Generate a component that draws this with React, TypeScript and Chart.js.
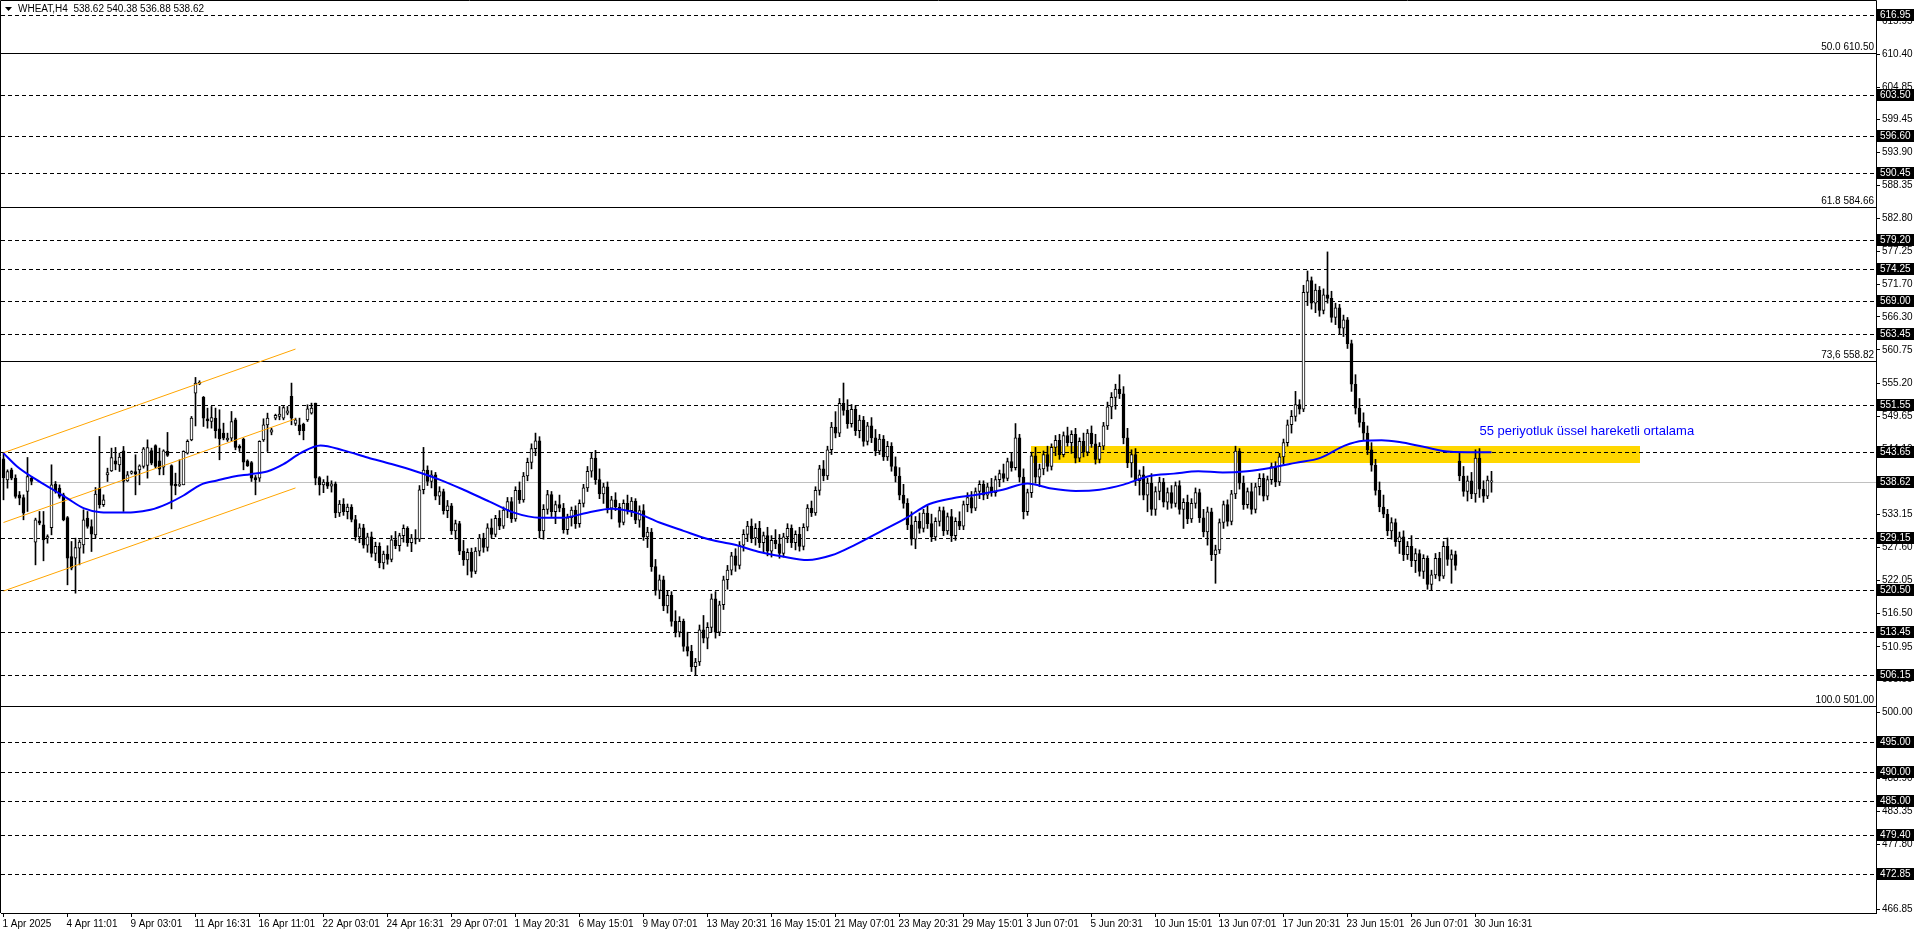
import React, { useEffect, useRef } from 'react';
import { Chart, registerables } from 'chart.js';
Chart.register(...registerables);

// ---------------- data (H4 bars, index 0 = first bar on screen) ----------------
const barOpen = [542.5, 538.96, 540.64, 539.24, 536.44, 535.99, 537.00, 539.24, 528.50, 532.08,
  531.41, 529.17, 530.95, 538.23, 537.56, 536.44, 532.64, 526.09, 525.81, 527.49,
  528.05, 532.53, 531.13, 529.73, 537.56, 534.77, 539.80, 540.47, 542.15, 541.48,
  543.83, 538.79, 540.08, 540.36, 540.64, 541.20, 541.37, 543.88, 544.72, 542.15,
  541.09, 543.72, 541.37, 538.23, 538.01, 538.12, 543.44, 545.67, 553.51, 555.07,
  552.78, 549.20, 548.75, 549.31, 547.52, 546.79, 545.67, 545.96, 549.03, 544.56,
  545.79, 542.15, 541.87, 539.35, 539.24, 545.67, 548.19, 546.96, 549.31, 549.59,
  549.31, 550.15, 552.95, 548.42, 548.19, 548.30, 549.03, 550.15, 551.83, 539.35,
  538.1, 538.6, 537.9, 538.3, 533.4, 534.9, 533.6, 534.4, 532.3, 529.4,
  530.9, 528.0, 529.4, 526.6, 527.8, 525.0, 526.5, 525.6, 528.9, 527.9,
  529.6, 530.8, 528.4, 529.2, 529.0, 537.3, 540.6, 538.7, 539.8, 536.2,
  537.0, 533.8, 534.6, 530.4, 531.6, 527.0, 525.5, 526.8, 523.6, 527.0,
  529.2, 527.6, 530.9, 529.8, 532.5, 531.2, 533.9, 535.3, 532.4, 537.2,
  535.6, 539.6, 541.9, 544.2, 545.5, 530.4, 534.0, 536.5, 533.6, 534.8,
  534.2, 530.6, 532.6, 533.9, 531.6, 535.0, 537.6, 540.4, 542.6, 539.0,
  536.6, 537.8, 534.2, 535.6, 534.4, 531.8, 535.0, 533.8, 535.4, 532.2,
  533.8, 529.4, 530.2, 524.4, 520.4, 522.2, 517.8, 519.6, 515.2, 513.4,
  515.2, 511.0, 510.2, 507.6, 508.4, 513.8, 512.4, 514.2, 519.0, 513.4,
  518.0, 522.2, 523.8, 526.2, 524.6, 528.0, 529.8, 531.2, 529.2, 530.8,
  528.4, 529.6, 527.0, 528.8, 528.2, 526.6, 529.4, 530.8, 528.4, 529.8,
  527.8, 531.0, 534.2, 533.4, 537.2, 540.8, 539.6, 544.0, 547.8, 546.8,
  551.8, 550.6, 548.4, 550.8, 547.2, 549.0, 545.4, 548.0, 546.0, 543.8,
  545.8, 542.8, 544.6, 541.2, 539.6, 536.4, 535.0, 531.4, 529.0, 532.0,
  530.8, 533.4, 531.6, 529.4, 532.0, 533.8, 530.4, 532.8, 529.6, 532.0,
  531.2, 534.8, 536.0, 534.2, 537.0, 538.2, 536.4, 537.8, 536.8, 539.0,
  540.0, 539.2, 542.0, 541.0, 546.0, 539.4, 533.6, 536.8, 543.0, 539.4,
  540.8, 543.2, 541.2, 544.4, 545.6, 543.2, 546.4, 545.2, 546.6, 542.6,
  545.4, 543.6, 546.8, 545.0, 542.4, 544.6, 548.0, 551.2, 552.8, 554.2,
  553.4, 546.0, 541.8, 543.2, 538.8, 539.8, 536.4, 538.4, 534.0, 537.0,
  538.6, 535.2, 536.8, 535.0, 538.0, 534.0, 535.2, 532.4, 535.0, 536.8,
  532.6, 530.2, 533.6, 526.4, 527.2, 531.8, 534.8, 532.0, 536.6, 543.8,
  538.4, 534.8, 537.0, 534.0, 537.8, 539.2, 536.2, 539.0, 541.2, 538.6,
  542.8, 545.2, 548.2, 549.6, 551.6, 550.8, 570.4, 572.4, 568.6, 570.8,
  567.4, 570.0, 569.4, 566.2, 567.8, 564.4, 565.8, 561.8, 555.0, 551.0,
  548.6, 546.8, 544.0, 541.4, 537.2, 534.4, 533.2, 530.4, 531.8, 528.6,
  529.4, 526.4, 527.8, 525.4, 526.6, 523.6, 525.8, 521.4, 523.0, 525.8,
  522.8, 527.8, 525.6, 526.4, 542.1, 539.6, 537.0, 538.8, 536.6, 542.6,
  537.4, 536.2, 538.62];
const barHigh = [543.5, 540.64, 540.92, 539.80, 537.00, 536.44, 542.71, 539.52, 532.53, 533.65,
  533.65, 529.73, 541.48, 538.68, 538.12, 536.72, 532.81, 528.61, 529.17, 528.89,
  533.93, 533.65, 532.25, 537.67, 546.24, 536.44, 540.92, 544.28, 544.39, 543.44,
  544.56, 540.36, 540.47, 543.16, 541.48, 544.39, 545.67, 544.28, 544.84, 544.28,
  544.00, 546.91, 541.48, 540.08, 542.32, 543.83, 545.67, 549.59, 556.14, 555.58,
  552.95, 550.99, 551.27, 550.99, 550.71, 548.47, 546.79, 550.43, 549.31, 544.84,
  545.96, 542.32, 542.04, 539.69, 545.51, 549.20, 550.15, 547.63, 549.98, 551.27,
  551.27, 551.27, 555.19, 549.31, 549.31, 548.47, 551.55, 551.83, 551.83, 539.50,
  539.0, 539.6, 538.8, 538.6, 535.5, 535.8, 534.9, 534.8, 533.0, 531.6,
  531.5, 530.0, 530.2, 528.5, 528.4, 527.0, 527.9, 529.6, 530.3, 530.0,
  531.4, 531.1, 529.8, 530.6, 538.0, 544.4, 541.3, 540.5, 540.2, 537.8,
  537.4, 535.5, 535.0, 532.2, 532.0, 528.8, 527.4, 527.5, 527.6, 529.8,
  530.0, 531.6, 532.4, 533.0, 533.8, 534.4, 536.0, 536.0, 537.8, 538.6,
  540.2, 542.6, 545.0, 546.8, 546.2, 534.8, 537.2, 537.0, 535.4, 536.4,
  535.0, 533.2, 534.4, 534.6, 535.6, 538.2, 541.2, 543.4, 543.9, 540.8,
  538.4, 538.6, 536.2, 536.8, 535.0, 535.6, 536.4, 536.0, 535.8, 534.6,
  534.8, 531.0, 530.8, 525.6, 523.0, 522.8, 520.4, 520.2, 517.0, 516.0,
  515.6, 513.4, 511.2, 509.0, 514.6, 516.2, 515.0, 519.8, 520.2, 518.6,
  522.8, 524.6, 526.8, 527.4, 528.6, 530.6, 532.0, 532.4, 531.6, 532.0,
  530.2, 531.0, 529.6, 530.6, 529.8, 530.0, 531.6, 531.4, 530.4, 531.0,
  531.6, 534.8, 535.4, 537.8, 541.4, 542.2, 544.6, 548.6, 550.4, 552.6,
  555.2, 552.4, 551.6, 551.4, 549.8, 549.6, 548.6, 549.4, 547.4, 546.6,
  546.4, 545.4, 545.2, 542.8, 541.0, 538.2, 535.8, 533.6, 532.8, 533.4,
  534.0, 534.6, 533.2, 532.6, 534.4, 534.4, 533.4, 534.0, 532.6, 533.6,
  535.4, 536.8, 537.0, 537.6, 538.8, 538.8, 538.4, 539.2, 539.6, 540.6,
  541.6, 542.6, 543.4, 548.4, 546.6, 540.8, 537.4, 543.6, 544.4, 541.6,
  543.8, 544.6, 545.0, 546.4, 546.6, 547.0, 547.8, 547.2, 547.6, 546.0,
  546.8, 547.4, 548.0, 546.6, 545.2, 548.6, 552.0, 553.6, 555.0, 556.6,
  554.6, 547.6, 544.0, 544.2, 540.6, 541.2, 539.2, 540.0, 537.8, 539.4,
  539.2, 537.6, 538.0, 538.6, 538.8, 535.8, 536.4, 535.8, 537.6, 537.4,
  534.0, 534.4, 534.2, 528.0, 532.4, 535.4, 535.6, 537.2, 544.6, 544.2,
  539.6, 537.6, 538.4, 538.4, 540.0, 540.0, 539.6, 541.8, 542.0, 543.4,
  545.8, 549.0, 550.6, 553.8, 552.4, 571.6, 574.0, 573.0, 571.8, 571.4,
  571.0, 577.2, 570.6, 568.6, 568.4, 566.6, 566.2, 562.4, 556.6, 552.6,
  550.2, 548.0, 545.2, 542.4, 538.6, 536.4, 534.0, 532.6, 532.4, 530.2,
  530.4, 528.6, 529.6, 527.4, 527.2, 526.4, 526.2, 523.8, 526.6, 526.8,
  528.6, 529.2, 527.2, 527.0, 543.4, 541.2, 539.6, 540.2, 544.0, 544.2,
  538.8, 539.6, 540.38];
const barLow = [535.6, 537.56, 538.96, 535.88, 534.77, 532.25, 533.65, 538.12, 524.69, 531.41,
  525.37, 528.33, 529.73, 536.72, 535.88, 532.08, 521.34, 523.85, 519.94, 524.69,
  526.65, 530.84, 526.93, 529.17, 534.21, 534.49, 538.68, 540.36, 540.64, 540.36,
  533.65, 538.68, 539.91, 536.44, 538.12, 540.92, 539.24, 541.48, 540.92, 539.80,
  539.80, 542.88, 534.09, 536.44, 537.84, 538.12, 543.27, 545.51, 548.00, 554.91,
  547.91, 547.63, 547.63, 545.96, 542.32, 545.67, 545.40, 545.40, 544.00, 543.72,
  540.64, 541.20, 538.68, 536.44, 538.68, 545.40, 543.72, 546.51, 549.03, 549.03,
  549.03, 549.87, 548.19, 548.08, 546.51, 545.67, 548.75, 549.98, 538.12, 536.40,
  536.8, 537.5, 536.9, 532.6, 532.8, 533.0, 532.4, 531.9, 528.8, 528.4,
  527.5, 526.8, 526.0, 525.4, 524.2, 524.0, 524.8, 525.2, 527.4, 527.0,
  528.5, 527.8, 526.9, 528.2, 528.6, 536.6, 538.0, 537.6, 535.6, 534.8,
  533.2, 532.6, 529.8, 529.0, 526.4, 524.6, 523.0, 522.6, 523.2, 526.2,
  526.8, 527.0, 529.2, 529.4, 530.6, 530.8, 532.6, 531.8, 532.0, 535.0,
  535.2, 538.8, 540.8, 543.0, 529.2, 529.0, 533.2, 532.8, 531.6, 533.6,
  530.0, 529.8, 531.2, 530.8, 531.0, 534.4, 537.0, 539.4, 538.2, 535.8,
  535.0, 533.4, 532.4, 533.8, 531.0, 531.4, 533.2, 532.8, 531.6, 531.0,
  528.8, 527.6, 523.6, 519.6, 519.0, 517.0, 516.6, 514.4, 512.6, 512.6,
  510.2, 509.4, 506.8, 506.2, 507.8, 511.6, 510.6, 513.4, 512.4, 512.8,
  517.2, 520.6, 523.0, 523.6, 524.0, 527.0, 528.6, 528.4, 528.0, 527.6,
  526.8, 526.2, 526.0, 527.4, 525.8, 526.0, 528.4, 527.6, 527.2, 527.0,
  527.2, 530.4, 532.8, 533.0, 536.4, 538.8, 539.0, 543.2, 546.0, 546.2,
  549.8, 547.6, 547.8, 546.4, 546.0, 544.6, 544.8, 545.2, 543.0, 543.2,
  542.2, 542.2, 540.4, 538.6, 535.6, 534.2, 530.6, 528.0, 527.4, 530.0,
  530.2, 530.8, 528.6, 528.8, 531.2, 529.6, 529.8, 528.6, 528.8, 530.6,
  530.6, 533.6, 533.4, 533.8, 535.8, 535.6, 535.8, 536.2, 536.2, 537.8,
  538.6, 538.8, 540.4, 540.6, 538.6, 532.4, 533.0, 536.0, 538.4, 537.8,
  539.8, 540.4, 540.6, 543.0, 542.4, 542.8, 544.6, 543.4, 541.8, 542.0,
  542.8, 543.0, 544.4, 541.6, 541.8, 544.0, 547.4, 549.2, 550.8, 552.6,
  545.0, 541.0, 539.4, 538.0, 536.4, 535.6, 533.6, 533.0, 533.0, 535.6,
  534.4, 534.0, 534.2, 534.4, 533.2, 530.8, 531.6, 531.8, 534.2, 531.8,
  529.4, 528.0, 525.4, 521.6, 526.6, 530.8, 531.2, 531.4, 535.8, 537.4,
  534.0, 534.2, 533.2, 533.4, 536.4, 535.4, 535.6, 538.2, 537.8, 538.0,
  541.6, 544.6, 546.8, 548.8, 550.0, 550.4, 568.2, 567.6, 567.0, 566.4,
  566.8, 568.6, 565.4, 565.0, 563.4, 563.0, 561.0, 553.8, 550.0, 547.8,
  545.6, 543.2, 540.4, 536.4, 533.6, 532.6, 529.6, 529.0, 527.8, 526.6,
  525.4, 525.6, 524.4, 523.4, 522.8, 522.4, 520.6, 520.4, 522.4, 522.0,
  522.4, 524.6, 521.6, 523.8, 538.8, 536.2, 535.4, 535.8, 535.2, 536.0,
  535.2, 535.8, 536.88];
const barClose = [539.3, 540.36, 539.24, 536.16, 535.88, 533.37, 539.52, 538.68, 532.25, 531.69,
  528.89, 529.45, 538.12, 537.00, 536.16, 532.25, 525.81, 524.13, 527.60, 528.50,
  532.25, 531.13, 529.84, 536.55, 534.77, 535.60, 540.19, 542.71, 541.59, 542.77,
  538.68, 539.80, 540.36, 539.91, 541.31, 544.16, 544.39, 541.76, 541.20, 540.75,
  543.83, 543.05, 538.01, 537.95, 538.23, 543.72, 545.40, 549.31, 555.19, 555.30,
  549.31, 548.86, 549.42, 547.19, 545.84, 545.96, 545.96, 548.75, 544.39, 544.28,
  541.93, 541.31, 539.24, 538.96, 545.40, 548.19, 549.31, 547.35, 549.76, 549.98,
  551.10, 550.54, 549.31, 549.03, 547.19, 547.19, 550.88, 550.99, 539.24, 538.12,
  538.6, 537.9, 538.3, 533.4, 534.9, 533.6, 534.4, 532.3, 529.4, 530.9,
  528.0, 529.4, 526.6, 527.8, 525.0, 526.5, 525.6, 528.9, 527.9, 529.6,
  530.8, 528.4, 529.2, 529.0, 537.3, 540.6, 538.7, 539.8, 536.2, 537.0,
  533.8, 534.6, 530.4, 531.6, 527.0, 525.5, 526.8, 523.6, 527.0, 529.2,
  527.6, 530.9, 529.8, 532.5, 531.2, 533.9, 535.3, 532.4, 537.2, 535.6,
  539.6, 541.9, 544.2, 545.5, 530.4, 534.0, 536.5, 533.6, 534.8, 534.2,
  530.6, 532.6, 533.9, 531.6, 535.0, 537.6, 540.4, 542.6, 539.0, 536.6,
  537.8, 534.2, 535.6, 534.4, 531.8, 535.0, 533.8, 535.4, 532.2, 533.8,
  529.4, 530.2, 524.4, 520.4, 522.2, 517.8, 519.6, 515.2, 513.4, 515.2,
  511.0, 510.2, 507.6, 508.4, 513.8, 512.4, 514.2, 519.0, 513.4, 518.0,
  522.2, 523.8, 526.2, 524.6, 528.0, 529.8, 531.2, 529.2, 530.8, 528.4,
  529.6, 527.0, 528.8, 528.2, 526.6, 529.4, 530.8, 528.4, 529.8, 527.8,
  531.0, 534.2, 533.4, 537.2, 540.8, 539.6, 544.0, 547.8, 546.8, 551.8,
  550.6, 548.4, 550.8, 547.2, 549.0, 545.4, 548.0, 546.0, 543.8, 545.8,
  542.8, 544.6, 541.2, 539.6, 536.4, 535.0, 531.4, 529.0, 532.0, 530.8,
  533.4, 531.6, 529.4, 532.0, 533.8, 530.4, 532.8, 529.6, 532.0, 531.2,
  534.8, 536.0, 534.2, 537.0, 538.2, 536.4, 537.8, 536.8, 539.0, 540.0,
  539.2, 542.0, 541.0, 546.0, 539.4, 533.6, 536.8, 543.0, 539.4, 540.8,
  543.2, 541.2, 544.4, 545.6, 543.2, 546.4, 545.2, 546.6, 542.6, 545.4,
  543.6, 546.8, 545.0, 542.4, 544.6, 548.0, 551.2, 552.8, 554.2, 553.4,
  546.0, 541.8, 543.2, 538.8, 539.8, 536.4, 538.4, 534.0, 537.0, 538.6,
  535.2, 536.8, 535.0, 538.0, 534.0, 535.2, 532.4, 535.0, 536.8, 532.6,
  530.2, 533.6, 526.4, 527.2, 531.8, 534.8, 532.0, 536.6, 543.8, 538.4,
  534.8, 537.0, 534.0, 537.8, 539.2, 536.2, 539.0, 541.2, 538.6, 542.8,
  545.2, 548.2, 549.6, 551.6, 550.8, 570.4, 572.4, 568.6, 570.8, 567.4,
  570.0, 569.4, 566.2, 567.8, 564.4, 565.8, 561.8, 555.0, 551.0, 548.6,
  546.8, 544.0, 541.4, 537.2, 534.4, 533.2, 530.4, 531.8, 528.6, 529.4,
  526.4, 527.8, 525.4, 526.6, 523.6, 525.8, 521.4, 523.0, 525.8, 522.8,
  527.8, 525.6, 526.4, 524.6, 539.6, 537.0, 538.8, 536.6, 542.6, 537.4,
  536.2, 538.9, 538.62];

// 55-period EMA (bar index, price)
const emaIdx = [0, 3.4, 7.6, 11.75, 15.9, 20, 24.25, 28.4, 32.6, 36.75, 40.9, 45, 49.25, 53.4, 57.6,
  61.75, 65.9, 70, 74.25, 79.25, 85, 91, 97, 103, 109, 115, 121.5, 127.6, 134, 139.8, 146, 152, 158,
  164, 170, 176.5, 182.6, 188.7, 194.8, 201, 207, 213, 219, 225.3, 231.5, 237.6, 243.7, 249.8, 256,
  262, 268, 274, 280, 286.5, 292.6, 298.7, 304.8, 310.9, 317, 323, 329.2, 335.3, 340, 344.5, 349,
  355, 361.75, 366, 372];
const emaVal = [543.44, 541.20, 539.24, 537.56, 535.88, 534.21, 533.53, 533.48, 533.53, 533.93,
  534.93, 536.33, 538.12, 538.85, 539.52, 539.91, 540.36, 541.59, 543.44, 544.72, 543.9, 542.7,
  541.6, 540.4, 539.0, 537.3, 535.3, 533.45, 532.6, 532.6, 533.45, 534.1, 533.45, 531.8, 530.4,
  528.95, 528.1, 526.9, 526.1, 525.5, 526.3, 528.1, 530.2, 532.4, 534.9, 535.9, 536.5, 537.3,
  538.35, 537.5, 537.1, 537.3, 538.15, 539.6, 540.0, 540.4, 540.2, 540.4, 541.0, 541.8, 542.65,
  544.7, 545.5, 545.6, 545.3, 544.5, 543.65, 543.6, 543.6];

const xTickIdx = [0, 16, 32, 48, 64, 80, 96, 112, 128, 144, 160, 176, 192, 208, 224, 240, 256, 272,
  288, 304, 320, 336, 352, 368];
const xTickLabels = ['1 Apr 2025', '4 Apr 11:01', '9 Apr 03:01', '11 Apr 16:31', '16 Apr 11:01',
  '22 Apr 03:01', '24 Apr 16:31', '29 Apr 07:01', '1 May 20:31', '6 May 15:01', '9 May 07:01',
  '13 May 20:31', '16 May 15:01', '21 May 07:01', '23 May 20:31', '29 May 15:01', '3 Jun 07:01',
  '5 Jun 20:31', '10 Jun 15:01', '13 Jun 07:01', '17 Jun 20:31', '23 Jun 15:01', '26 Jun 07:01',
  '30 Jun 16:31'];
const yTickValues = [615.95, 610.40, 604.85, 599.45, 593.90, 588.35, 582.80, 577.25, 571.70, 566.30,
  560.75, 555.20, 549.65, 544.10, 538.70, 533.15, 527.60, 522.05, 516.50, 510.95, 505.55, 500.00,
  494.45, 488.90, 483.35, 477.80, 472.30, 466.85];
const levelPrices = [616.95, 603.50, 596.60, 590.45, 579.20, 574.25, 569.00, 563.45, 551.55, 543.65,
  529.15, 520.50, 513.45, 506.15, 495.00, 490.00, 485.00, 479.40, 472.85];
const fibPrices = [610.50, 584.66, 558.82, 501.00];
const fibLabels = ['50.0 610.50', '61.8 584.66', '73,6 558.82', '100.0 501.00'];
const lastPrice = 538.62;
const headerText = 'WHEAT,H4  538.62 540.38 536.88 538.62';
const channelX = [0, 73];
const channelUpper = [543.5, 560.9];
const channelMiddle = [531.8, 549.2];
const channelLower = [520.3, 537.6];
const zoneX = [256.75, 409];
const zonePrice = [541.9, 544.7];
const emaNote = '55 periyotluk üssel hareketli ortalama';
const emaNoteAt = [369, 547.1];

// ---------------- layout constants ----------------
const W = 1916;
const H = 936;
const AXIS_W = 40;
const XAXIS_H = 23;
const BAR0_X = 3.5;
const PX_PER_BAR = 4;
const PRICE_REF = 616.95;
const PRICE_REF_Y = 15;
const PX_PER_PRICE = 5.96;
const FONT = 'Liberation Sans, Arial, sans-serif';

const overlay = {
  id: 'mt4overlay',
  beforeDatasetsDraw(chart: any) {
    const { ctx, chartArea: a, scales } = chart;
    const x = scales.x, y = scales.y;
    ctx.save();
    const zx1 = x.getPixelForValue(zoneX[0]);
    const zx2 = x.getPixelForValue(zoneX[1]);
    const zy1 = y.getPixelForValue(zonePrice[1]);
    const zy2 = y.getPixelForValue(zonePrice[0]);
    ctx.fillStyle = '#FFD700';
    ctx.fillRect(Math.round(zx1), Math.round(zy1), Math.round(zx2 - zx1), Math.round(zy2 - zy1));
    ctx.lineWidth = 1;
    ctx.strokeStyle = '#C0C0C0';
    const py = Math.round(y.getPixelForValue(lastPrice)) + 0.5;
    ctx.beginPath(); ctx.moveTo(0, py); ctx.lineTo(a.right, py); ctx.stroke();
    ctx.strokeStyle = '#000';
    ctx.setLineDash([4, 3]);
    levelPrices.forEach((p) => {
      const yy = Math.round(y.getPixelForValue(p)) + 0.5;
      ctx.beginPath(); ctx.moveTo(1, yy); ctx.lineTo(a.right, yy); ctx.stroke();
    });
    ctx.setLineDash([]);
    fibPrices.forEach((p) => {
      const yy = Math.round(y.getPixelForValue(p)) + 0.5;
      ctx.beginPath(); ctx.moveTo(0, yy); ctx.lineTo(a.right, yy); ctx.stroke();
    });
    ctx.restore();
  },
  afterDraw(chart: any) {
    const { ctx, chartArea: a, scales } = chart;
    const x = scales.x, y = scales.y;
    ctx.save();
    ctx.strokeStyle = '#000';
    ctx.lineWidth = 1;
    ctx.beginPath();
    ctx.moveTo(0.5, a.bottom); ctx.lineTo(0.5, 0.5); ctx.lineTo(a.right + 0.5, 0.5);
    ctx.lineTo(a.right + 0.5, a.bottom);
    ctx.stroke();
    ctx.font = `10px ${FONT}`;
    ctx.fillStyle = '#000';
    ctx.textAlign = 'right';
    ctx.textBaseline = 'bottom';
    fibPrices.forEach((p, k) => {
      const yy = Math.round(y.getPixelForValue(p));
      ctx.fillText(fibLabels[k], a.right - 2, yy - 1);
    });
    ctx.font = `13px ${FONT}`;
    ctx.fillStyle = '#0000FF';
    ctx.textAlign = 'left';
    ctx.textBaseline = 'middle';
    ctx.fillText(emaNote, x.getPixelForValue(emaNoteAt[0]), y.getPixelForValue(emaNoteAt[1]));
    ctx.fillStyle = '#000';
    ctx.beginPath();
    ctx.moveTo(5, 7); ctx.lineTo(12, 7); ctx.lineTo(8.5, 11); ctx.closePath(); ctx.fill();
    ctx.font = `10px ${FONT}`;
    ctx.fillText(headerText, 18, 9);
    const labels = levelPrices.concat([lastPrice]);
    labels.forEach((p) => {
      const yy = Math.round(y.getPixelForValue(p));
      ctx.fillStyle = '#000';
      ctx.fillRect(a.right + 1, yy - 6, AXIS_W - 3, 12);
      ctx.fillStyle = '#fff';
      ctx.textAlign = 'left';
      ctx.textBaseline = 'middle';
      ctx.fillText(p.toFixed(2), a.right + 4, yy + 0.5);
    });
    ctx.restore();
  },
};

export default function App() {
  const ref = useRef<HTMLCanvasElement>(null);
  useEffect(() => {
    document.body.style.margin = '0';
    document.body.style.overflow = 'hidden';
    const idx = barOpen.map((_, i) => i);
    const line = (xs: number[], ys: number[], color: string, width: number) => ({
      type: 'line',
      data: xs.map((v, k) => ({ x: v, y: ys[k] })),
      borderColor: color,
      borderWidth: width,
      pointRadius: 0,
      fill: false,
      order: 0,
    });
    const chart = new Chart(ref.current as HTMLCanvasElement, {
      type: 'bar',
      data: {
        datasets: [
          { ...line(emaIdx, emaVal, '#0000FF', 2), cubicInterpolationMode: 'monotone' },
          line(channelX, channelUpper, '#FFA500', 1),
          line(channelX, channelMiddle, '#FFA500', 1),
          line(channelX, channelLower, '#FFA500', 1),
          {
            type: 'bar',
            data: idx.map((i) => ({ x: i, y: [barLow[i], barHigh[i]] })),
            backgroundColor: '#000',
            barThickness: 1,
            grouped: false,
            order: 2,
          },
          {
            type: 'bar',
            data: idx.map((i) => ({ x: i, y: [barOpen[i], barClose[i]] })),
            backgroundColor: idx.map((i) => (barClose[i] >= barOpen[i] ? '#FFFFFF' : '#000000')),
            borderColor: '#000',
            borderWidth: 1,
            borderSkipped: false,
            barThickness: 3,
            minBarLength: 1,
            grouped: false,
            order: 1,
          },
        ] as any,
      },
      options: {
        responsive: false,
        animation: false,
        devicePixelRatio: 1,
        events: [],
        layout: { padding: { left: 1, top: 1, right: 0, bottom: 0 } },
        plugins: { legend: { display: false }, tooltip: { enabled: false } },
        scales: {
          x: {
            type: 'linear',
            offset: false,
            min: -0.625,
            max: 468.125,
            afterBuildTicks: (s: any) => { s.ticks = xTickIdx.map((v) => ({ value: v })); },
            afterFit: (s: any) => { s.height = XAXIS_H; },
            ticks: {
              callback: (_v: any, i: number) => xTickLabels[i],
              autoSkip: false,
              maxRotation: 0,
              minRotation: 0,
              align: 'start',
              labelOffset: -1,
              padding: 1,
              color: '#000',
              font: { family: FONT, size: 10 },
            },
            grid: { offset: false, drawOnChartArea: false, drawTicks: true, tickLength: 4, color: '#000' },
            border: { display: true, color: '#000' },
          },
          y: {
            type: 'linear',
            position: 'right',
            offset: false,
            min: 466.36,
            max: 619.38,
            afterBuildTicks: (s: any) => { s.ticks = yTickValues.map((v) => ({ value: v })); },
            afterFit: (s: any) => { s.width = AXIS_W; },
            ticks: {
              callback: (v: any) => Number(v).toFixed(2),
              autoSkip: false,
              padding: 2,
              color: '#000',
              font: { family: FONT, size: 10 },
            },
            grid: { drawOnChartArea: false, drawTicks: true, tickLength: 4, color: '#000' },
            border: { display: true, color: '#000' },
          },
        },
      } as any,
      plugins: [overlay],
    });
    const a = chart.chartArea;
    const o: any = chart.options.scales;
    o.x.min = (a.left - BAR0_X) / PX_PER_BAR;
    o.x.max = (a.right - BAR0_X) / PX_PER_BAR;
    o.y.max = PRICE_REF + (PRICE_REF_Y - a.top) / PX_PER_PRICE;
    o.y.min = PRICE_REF - (a.bottom - PRICE_REF_Y) / PX_PER_PRICE;
    chart.update('none');
    return () => chart.destroy();
  }, []);
  return (
    <div style={{ width: W, height: H, background: '#fff' }}>
      <canvas ref={ref} width={W} height={H} style={{ display: 'block' }} />
    </div>
  );
}
